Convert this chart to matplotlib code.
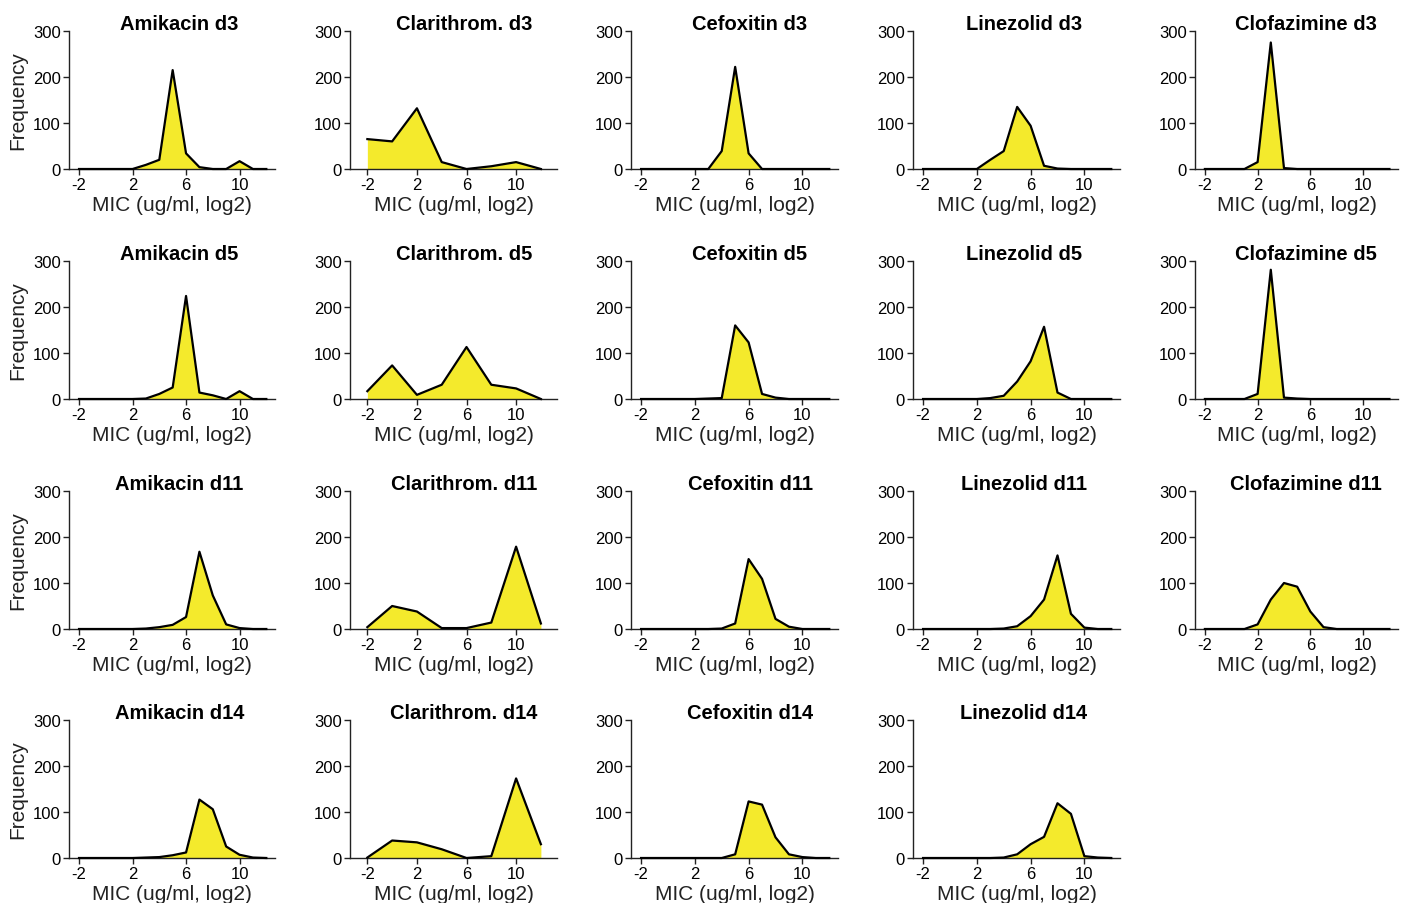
import matplotlib.pyplot as plt

plt.rcParams['font.family'] = ['Liberation Sans', 'DejaVu Sans']
plt.rcParams['axes.unicode_minus'] = False

# MIC bins (log2 ug/ml)
mic_int = [-2, -1, 0, 1, 2, 3, 4, 5, 6, 7, 8, 9, 10, 11, 12]
mic_even = [-2, 0, 2, 4, 6, 8, 10, 12]   # clarithromycin uses 2-step bins

days = ['d3', 'd5', 'd11', 'd14']
drugs = ['Amikacin', 'Clarithrom.', 'Cefoxitin', 'Linezolid', 'Clofazimine']

# frequencies
amikacin_d3 = [0, 0, 0, 0, 0, 9, 20, 215, 34, 4, 0, 0, 17, 0, 0]
amikacin_d5 = [0, 0, 0, 0, 0, 1, 11, 25, 224, 14, 8, 0, 17, 0, 0]
amikacin_d11 = [0, 0, 0, 0, 0, 1, 4, 9, 26, 168, 73, 10, 2, 0, 0]
amikacin_d14 = [0, 0, 0, 0, 0, 1, 2, 6, 12, 127, 106, 25, 7, 1, 0]

clarithrom_d3 = [65, 60, 132, 15, 0, 6, 15, 0]
clarithrom_d5 = [17, 73, 9, 31, 113, 31, 23, 0]
clarithrom_d11 = [4, 50, 38, 2, 2, 14, 179, 12]
clarithrom_d14 = [1, 38, 34, 19, 0, 4, 173, 30]

cefoxitin_d3 = [0, 0, 0, 0, 0, 0, 39, 222, 34, 0, 0, 0, 0, 0, 0]
cefoxitin_d5 = [0, 0, 0, 0, 0, 1, 2, 160, 123, 11, 3, 0, 0, 0, 0]
cefoxitin_d11 = [0, 0, 0, 0, 0, 0, 1, 12, 152, 109, 22, 5, 0, 0, 0]
cefoxitin_d14 = [0, 0, 0, 0, 0, 0, 0, 8, 123, 116, 45, 8, 2, 0, 0]

linezolid_d3 = [0, 0, 0, 0, 0, 20, 39, 135, 94, 7, 1, 0, 0, 0, 0]
linezolid_d5 = [0, 0, 0, 0, 0, 2, 7, 38, 82, 157, 14, 0, 0, 0, 0]
linezolid_d11 = [0, 0, 0, 0, 0, 0, 1, 6, 28, 64, 160, 33, 3, 0, 0]
linezolid_d14 = [0, 0, 0, 0, 0, 0, 1, 8, 30, 46, 119, 96, 4, 1, 0]

clofazimine_d3 = [0, 0, 0, 0, 15, 275, 2, 0, 0, 0, 0, 0, 0, 0, 0]
clofazimine_d5 = [0, 0, 0, 0, 11, 281, 3, 1, 0, 0, 0, 0, 0, 0, 0]
clofazimine_d11 = [0, 0, 0, 0, 10, 64, 100, 92, 38, 4, 0, 0, 0, 0, 0]

series = {
    'Amikacin': [amikacin_d3, amikacin_d5, amikacin_d11, amikacin_d14],
    'Clarithrom.': [clarithrom_d3, clarithrom_d5, clarithrom_d11, clarithrom_d14],
    'Cefoxitin': [cefoxitin_d3, cefoxitin_d5, cefoxitin_d11, cefoxitin_d14],
    'Linezolid': [linezolid_d3, linezolid_d5, linezolid_d11, linezolid_d14],
    'Clofazimine': [clofazimine_d3, clofazimine_d5, clofazimine_d11, None],
}

W, H = 1410, 904
col_left = [69, 350, 631, 913, 1195]
col_width = [206, 207, 207, 207, 203]
title_x = [0.535, 0.55, 0.575, 0.535, 0.545]
row_top = [32, 262, 492, 721]
ax_h = 138

fig = plt.figure(figsize=(W / 100, H / 100), dpi=100)
yellow = '#f4ea2c'
dark = '#222222'

for c, drug in enumerate(drugs):
    for r, day in enumerate(days):
        y = series[drug][r]
        if y is None:
            continue
        x = mic_even if drug == 'Clarithrom.' else mic_int
        ax = fig.add_axes([col_left[c] / W, 1 - (row_top[r] + ax_h) / H,
                           col_width[c] / W, ax_h / H])
        ax.fill_between(x, y, 0, color=yellow, lw=0, zorder=2)
        ax.plot(x, y, color='black', lw=1.6, zorder=3, clip_on=False)

        ax.set_ylim(0, 300)
        if drug == 'Clarithrom.':
            ax.set_xlim(-3.4, 13.3)
        else:
            ax.set_xlim(-2.75, 12.65)
        ax.set_xticks([-2, 2, 6, 10])
        ax.set_yticks([0, 100, 200, 300])
        for s in ['top', 'right']:
            ax.spines[s].set_visible(False)
        for s in ['left', 'bottom']:
            ax.spines[s].set_color(dark)
            ax.spines[s].set_linewidth(1.0)
        ax.tick_params(length=4, width=1.0, color=dark, labelsize=12,
                       labelcolor='black', pad=2)
        # fixed y so the title is not pushed up by the "300" tick label
        ax.set_title(f'{drug} {day}', fontsize=14.5, fontweight='bold',
                     x=title_x[c], y=1.0, pad=1.5)
        ax.set_xlabel('MIC (ug/ml, log2)', fontsize=15, color='#222222',
                      labelpad=2)
        if c == 0:
            ax.set_ylabel('Frequency', fontsize=15, color='#222222',
                          labelpad=4)

fig.savefig('out.png', dpi=100)
